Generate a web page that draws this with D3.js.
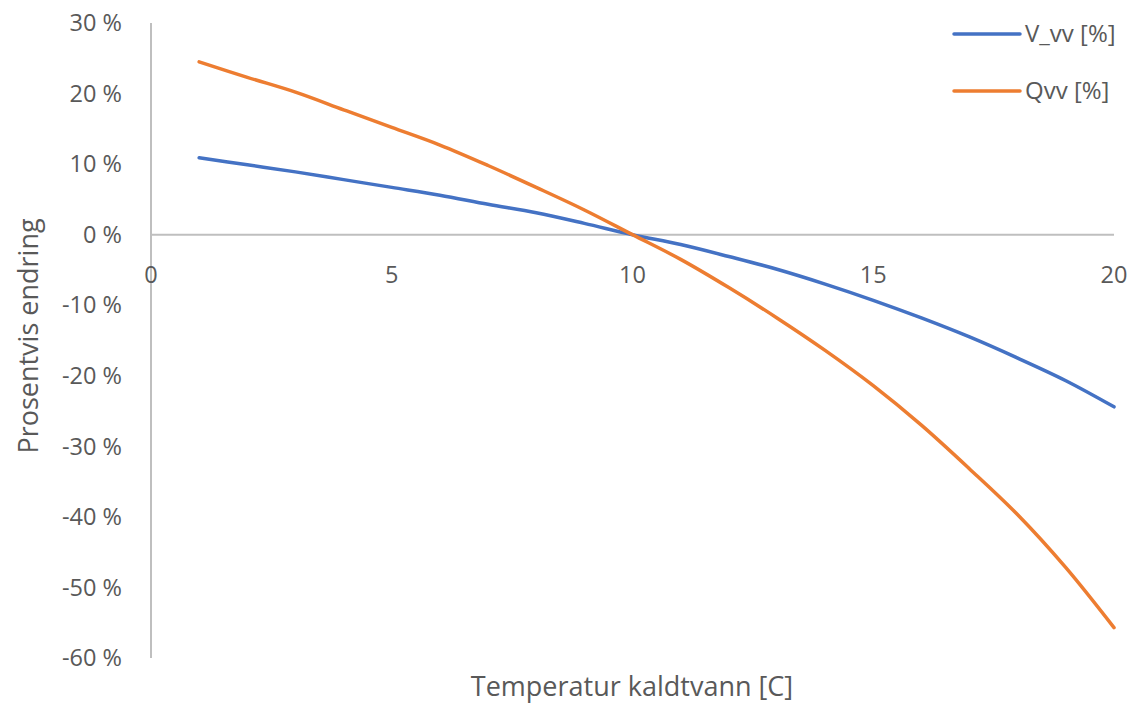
<!DOCTYPE html>
<html>
<head>
<script src="https://d3js.org/d3.v7.min.js"></script>
<style>
  body { margin: 0; background: #fff; }
  text { font-family: "Open Sans", sans-serif; fill: #595959; }
</style>
</head>
<body>
<svg></svg>
<script>
const temps = [1, 2, 3, 4, 5, 6, 7, 8, 9, 10, 11, 12, 13, 14, 15, 16, 17, 18, 19, 20];
const vvv = [10.9, 9.9, 8.9, 7.8, 6.7, 5.6, 4.3, 3.1, 1.6, 0, -1.4, -3.1, -4.9, -7.0, -9.3, -11.8, -14.5, -17.5, -20.7, -24.4];
const qvv = [24.5, 22.3, 20.2, 17.7, 15.2, 12.7, 9.8, 6.7, 3.5, 0, -3.5, -7.5, -11.8, -16.4, -21.4, -27.0, -33.2, -39.7, -47.2, -55.7];
const yTicks = [30, 20, 10, 0, -10, -20, -30, -40, -50, -60];
const xTicks = [0, 5, 10, 15, 20];
const seriesNames = ["V_vv [%]", "Qvv [%]"];
const colors = ["#4472C4", "#ED7D31"];

const width = 1139, height = 704;
const svg = d3.select("svg").attr("width", width).attr("height", height);

const x = d3.scaleLinear().domain([0, 20]).range([151, 1114]);
const y = d3.scaleLinear().domain([-60, 30]).range([658, 23]);

// y axis line
svg.append("line")
  .attr("x1", x(0)).attr("x2", x(0))
  .attr("y1", y(30)).attr("y2", y(-60))
  .attr("stroke", "#BFBFBF").attr("stroke-width", 2);
// x axis line at 0
svg.append("line")
  .attr("x1", x(0)).attr("x2", x(20))
  .attr("y1", y(0)).attr("y2", y(0))
  .attr("stroke", "#BFBFBF").attr("stroke-width", 2);

svg.selectAll(".ytick")
  .data(yTicks)
  .enter().append("text")
  .attr("x", 122)
  .attr("y", d => y(d))
  .attr("dy", "0.35em")
  .attr("text-anchor", "end")
  .style("font-size", "23.5px")
  .text(d => d + " %");

svg.selectAll(".xtick")
  .data(xTicks)
  .enter().append("text")
  .attr("x", d => x(d))
  .attr("y", y(0) + 40)
  .attr("dy", "0.35em")
  .attr("text-anchor", "middle")
  .style("font-size", "23.5px")
  .text(d => d);

const line = d3.line()
  .x(d => x(d[0]))
  .y(d => y(d[1]))
  .curve(d3.curveCatmullRom.alpha(0.5));

[vvv, qvv].forEach((vals, i) => {
  svg.append("path")
    .datum(temps.map((t, j) => [t, vals[j]]))
    .attr("d", line)
    .attr("fill", "none")
    .attr("stroke", colors[i])
    .attr("stroke-width", 3.5)
    .attr("stroke-linecap", "round");
});

// axis titles
svg.append("text")
  .attr("x", 632).attr("y", 696)
  .attr("text-anchor", "middle")
  .style("font-size", "27px")
  .text("Temperatur kaldtvann [C]");

svg.append("text")
  .attr("transform", "translate(38,336) rotate(-90)")
  .attr("text-anchor", "middle")
  .style("font-size", "27px")
  .text("Prosentvis endring");

// legend
const legend = svg.selectAll(".legend")
  .data(seriesNames)
  .enter().append("g")
  .attr("transform", (d, i) => `translate(954,${34 + i * 57})`);
legend.append("line")
  .attr("x1", 0).attr("x2", 66)
  .attr("stroke", (d, i) => colors[i])
  .attr("stroke-width", 3.5)
  .attr("stroke-linecap", "round");
legend.append("text")
  .attr("x", 71)
  .attr("dy", "0.35em")
  .style("font-size", "24px")
  .text(d => d);
</script>
</body>
</html>
